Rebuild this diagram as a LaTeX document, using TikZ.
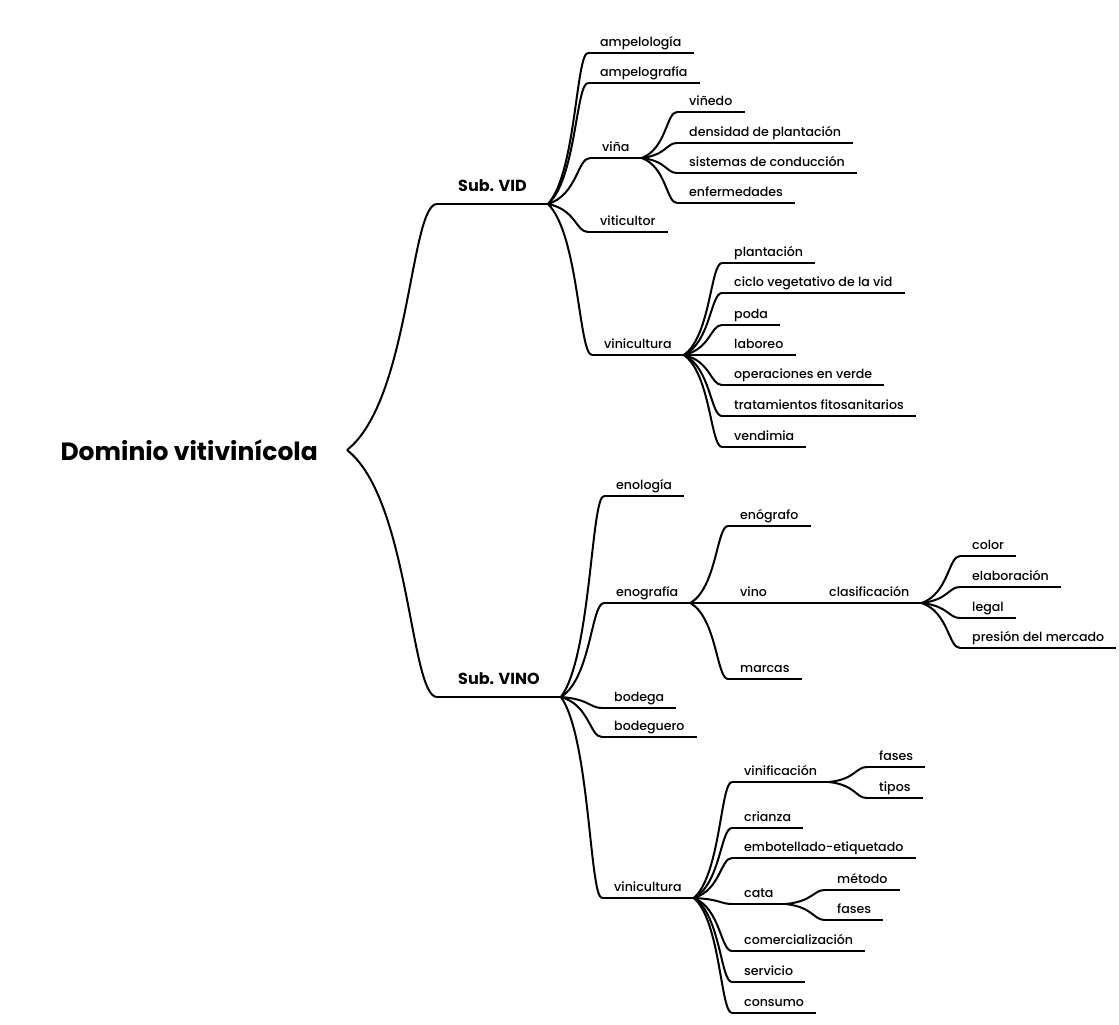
\documentclass[tikz,border=0pt]{standalone}
\usepackage{fontspec}
\setmainfont{Poppins}
\newfontfamily\medfont{Poppins Medium}
\usetikzlibrary{calc}

\tikzset{
  topic/.style={anchor=south west, inner xsep=12pt, inner ysep=0pt,
    text height=9pt, text depth=6pt, font=\medfont\fontsize{12.6}{14}\selectfont},
  subtopic/.style={topic, inner xsep=21pt, text height=11pt, text depth=12pt,
    font=\fontsize{16}{18}\selectfont\bfseries},
  wire/.style={line width=2pt},
  branch/.style={to path={let \p1=(\tikztostart), \p2=(\tikztotarget) in
    .. controls ({\x1+0.7*(\x2-\x1)},{\y1+0.2*(\y2-\y1)})
       and ({\x2-0.3*(\x2-\x1)},{\y2}) .. (\tikztotarget)}}
}

\begin{document}
\begin{tikzpicture}[x=1pt, y=-1pt]
    \useasboundingbox[fill=white] (0,0) rectangle (1119,1025);

    \node[font=\fontsize{25}{28}\selectfont\bfseries, anchor=east, inner xsep=29pt,
      inner ysep=0pt, text height=22pt, text depth=2pt] (root) at (347,450) {Dominio vitivinícola};
    \node[subtopic] (subvid) at (437,204) {Sub. VID};
    \node[subtopic] (subvino) at (437,697) {Sub. VINO};

    % Sub. VID
    \node[topic] (ampelologia) at (588,53) {ampelología};
    \node[topic] (ampelografia) at (588,83) {ampelografía};
    \node[topic] (vina) at (590,158) {viña};
    \node[topic] (viticultor) at (588,232) {viticultor};
    \node[topic] (vinivid) at (592,355) {vinicultura};
    \node[topic] (vinedo) at (677,112) {viñedo};
    \node[topic] (densidad) at (677,143) {densidad de plantación};
    \node[topic] (sistemas) at (677,173) {sistemas de conducción};
    \node[topic] (enfermedades) at (677,203) {enfermedades};
    \node[topic] (plantacion) at (722,263) {plantación};
    \node[topic] (ciclo) at (722,293) {ciclo vegetativo de la vid};
    \node[topic] (poda) at (722,325) {poda};
    \node[topic] (laboreo) at (722,355) {laboreo};
    \node[topic] (operaciones) at (722,385) {operaciones en verde};
    \node[topic] (tratamientos) at (722,416) {tratamientos fitosanitarios};
    \node[topic] (vendimia) at (722,447) {vendimia};

    % Sub. VINO
    \node[topic] (enologia) at (604,496) {enología};
    \node[topic] (enografia) at (604,603) {enografía};
    \node[topic] (bodega) at (602,708) {bodega};
    \node[topic] (bodeguero) at (602,737) {bodeguero};
    \node[topic] (vinivino) at (602,898) {vinicultura};
    \node[topic] (enografo) at (728,526) {enógrafo};
    \node[topic] (vino) at (728,603) {vino};
    \node[topic] (marcas) at (728,679) {marcas};
    \node[topic] (clasificacion) at (817,603) {clasificación};
    \node[topic] (color) at (960,556) {color};
    \node[topic] (elaboracion) at (960,587) {elaboración};
    \node[topic] (legal) at (960,618) {legal};
    \node[topic] (presion) at (960,648) {presión del mercado};
    \node[topic] (vinificacion) at (732,782) {vinificación};
    \node[topic] (crianza) at (732,828) {crianza};
    \node[topic] (embotellado) at (732,858) {embotellado-etiquetado};
    \node[topic] (cata) at (732,904) {cata};
    \node[topic] (comercializacion) at (732,951) {comercialización};
    \node[topic] (servicio) at (732,982) {servicio};
    \node[topic] (consumo) at (732,1013) {consumo};
    \node[topic] (fasesvin) at (867,767) {fases};
    \node[topic] (tipos) at (867,798) {tipos};
    \node[topic] (metodo) at (825,890) {método};
    \node[topic] (fasescata) at (825,920) {fases};

    % underlines
    \foreach \n in {subvid,subvino,ampelologia,ampelografia,vina,viticultor,vinivid,
        vinedo,densidad,sistemas,enfermedades,plantacion,ciclo,poda,laboreo,operaciones,
        tratamientos,vendimia,enologia,enografia,bodega,bodeguero,vinivino,enografo,vino,
        marcas,clasificacion,color,elaboracion,legal,presion,vinificacion,crianza,
        embotellado,cata,comercializacion,servicio,consumo,fasesvin,tipos,metodo,fasescata}
      \draw[wire] (\n.south west) -- (\n.south east);

    % connectors
    \foreach \c in {subvid,subvino}
      \draw[wire] (root.east) to[branch] (\c.south west);
    \foreach \c in {ampelologia,ampelografia,vina,viticultor,vinivid}
      \draw[wire] (subvid.south east) to[branch] (\c.south west);
    \foreach \c in {vinedo,densidad,sistemas,enfermedades}
      \draw[wire] (vina.south east) to[branch] (\c.south west);
    \foreach \c in {plantacion,ciclo,poda,laboreo,operaciones,tratamientos,vendimia}
      \draw[wire] (vinivid.south east) to[branch] (\c.south west);
    \foreach \c in {enologia,enografia,bodega,bodeguero,vinivino}
      \draw[wire] (subvino.south east) to[branch] (\c.south west);
    \foreach \c in {enografo,vino,marcas}
      \draw[wire] (enografia.south east) to[branch] (\c.south west);
    \draw[wire] (vino.south east) to[branch] (clasificacion.south west);
    \foreach \c in {color,elaboracion,legal,presion}
      \draw[wire] (clasificacion.south east) to[branch] (\c.south west);
    \foreach \c in {vinificacion,crianza,embotellado,cata,comercializacion,servicio,consumo}
      \draw[wire] (vinivino.south east) to[branch] (\c.south west);
    \foreach \c in {fasesvin,tipos}
      \draw[wire] (vinificacion.south east) to[branch] (\c.south west);
    \foreach \c in {metodo,fasescata}
      \draw[wire] (cata.south east) to[branch] (\c.south west);
\end{tikzpicture}
\end{document}
